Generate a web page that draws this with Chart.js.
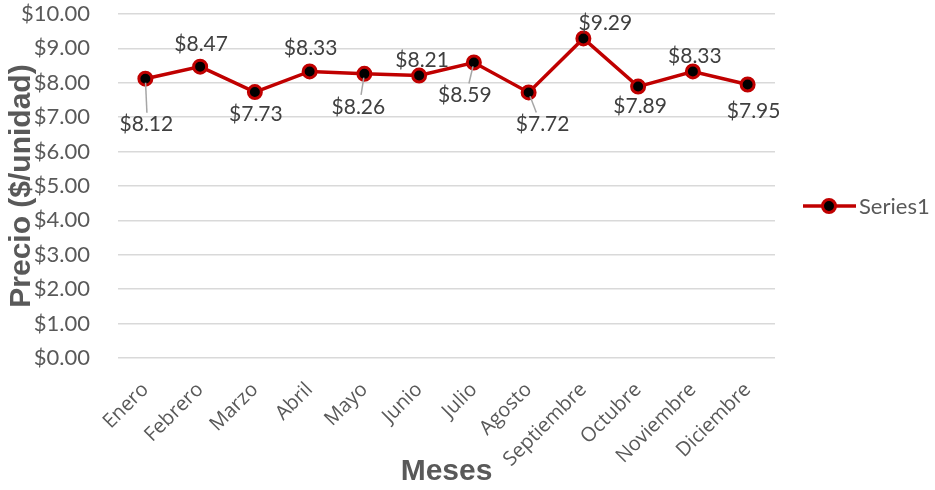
<!DOCTYPE html>
<html>
<head>
<meta charset="utf-8">
<script src="https://cdn.jsdelivr.net/npm/chart.js@4"></script>
<style>
  html, body { margin: 0; padding: 0; background: #fff; }
  #wrap { width: 935px; height: 490px; position: relative; }
</style>
</head>
<body>
<div id="wrap"><canvas id="c" width="935" height="490"></canvas></div>
<script>
const categories = ['Enero','Febrero','Marzo','Abril','Mayo','Junio','Julio','Agosto','Septiembre','Octubre','Noviembre','Diciembre'];
const seriesName = 'Series1';
const prices = [8.12, 8.47, 7.73, 8.33, 8.26, 8.21, 8.59, 7.72, 9.29, 7.89, 8.33, 7.95];
const yTickMin = 0, yTickMax = 10, yTickStep = 1;

// label placement style (offset from point in px, leader-line flag)
const labelStyle = [
  {dx: 1, dy: 46, leader: true},
  {dx: 1, dy: -22},
  {dx: 1, dy: 22},
  {dx: 1, dy: -23},
  {dx: -6, dy: 33, leader: true},
  {dx: 3, dy: -15},
  {dx: -9, dy: 33, leader: true},
  {dx: 14, dy: 32, leader: true},
  {dx: 22, dy: -15},
  {dx: 2, dy: 20},
  {dx: 2, dy: -15},
  {dx: 6, dy: 27}
];

const RED = '#C00000';
const GRAY = '#595959';

const dataLabels = {
  id: 'dataLabels',
  afterDatasetsDraw(chart) {
    const ctx = chart.ctx;
    const meta = chart.getDatasetMeta(0);
    ctx.save();
    meta.data.forEach((pt, i) => {
      const s = labelStyle[i];
      const lx = pt.x + s.dx, ly = pt.y + s.dy;
      if (s.leader) {
        ctx.strokeStyle = '#a6a6a6';
        ctx.lineWidth = 1.5;
        ctx.beginPath();
        ctx.moveTo(pt.x, pt.y);
        const ex = pt.x + s.dx * 0.55, ey = ly - 12 * Math.sign(s.dy);
        ctx.lineTo(ex + (s.dx === 1 ? 1 : 0), ey);
        ctx.stroke();
        ctx.beginPath();
        ctx.fillStyle = '#000';
        ctx.arc(pt.x, pt.y, 4, 0, Math.PI * 2);
        ctx.fill();
      }
      ctx.fillStyle = '#404040';
      ctx.font = '21px Lato';
      ctx.textAlign = 'center';
      ctx.textBaseline = 'middle';
      ctx.fillText('$' + prices[i].toFixed(2), lx, ly);
    });
    ctx.restore();
  }
};

const customLegend = {
  id: 'customLegend',
  afterDraw(chart) {
    const ctx = chart.ctx;
    const x0 = 803, y0 = 206;
    ctx.save();
    ctx.strokeStyle = RED;
    ctx.lineWidth = 3.5;
    ctx.beginPath();
    ctx.moveTo(x0, y0);
    ctx.lineTo(x0 + 53, y0);
    ctx.stroke();
    ctx.beginPath();
    ctx.arc(x0 + 26, y0, 6.5, 0, Math.PI * 2);
    ctx.fillStyle = '#000';
    ctx.fill();
    ctx.lineWidth = 3;
    ctx.strokeStyle = RED;
    ctx.stroke();
    ctx.fillStyle = GRAY;
    ctx.font = '22px Lato';
    ctx.textAlign = 'left';
    ctx.textBaseline = 'middle';
    ctx.fillText(seriesName, x0 + 56, y0 + 1);
    ctx.restore();
  }
};

new Chart(document.getElementById('c'), {
  type: 'line',
  data: {
    labels: categories,
    datasets: [{
      label: seriesName,
      data: prices,
      borderColor: RED,
      borderWidth: 3.5,
      tension: 0,
      pointBackgroundColor: '#000',
      pointBorderColor: RED,
      pointBorderWidth: 3,
      pointRadius: 6.5,
      fill: false
    }]
  },
  options: {
    responsive: false,
    animation: false,
    devicePixelRatio: 1,
    layout: { padding: { top: 14, right: 160, left: 0, bottom: 0 } },
    plugins: {
      legend: { display: false },
      tooltip: { enabled: false }
    },
    scales: {
      x: {
        offset: true,
        grid: { display: false, drawTicks: false },
        border: { display: false },
        ticks: {
          color: GRAY,
          font: { family: 'Open Sans', size: 20 },
          maxRotation: 45,
          minRotation: 45,
          padding: 20,
          autoSkip: false
        },
        title: {
          display: true,
          text: 'Meses',
          color: GRAY,
          font: { family: 'Liberation Sans', size: 30, weight: 'bold' },
          padding: 0
        },
        afterFit(scale) { scale.height = 132; }
      },
      y: {
        min: yTickMin,
        max: yTickMax,
        grid: { color: '#d9d9d9', lineWidth: 1.5, drawTicks: true, tickLength: 28, tickColor: 'rgba(0,0,0,0)' },
        border: { display: false },
        ticks: {
          stepSize: yTickStep,
          color: GRAY,
          font: { family: 'Lato', size: 22 },
          padding: 0,
          callback: v => '$' + Number(v).toFixed(2)
        },
        title: {
          display: true,
          text: 'Precio ($/unidad)',
          color: GRAY,
          font: { family: 'Liberation Sans', size: 30, weight: 'bold' },
          padding: { top: 4, bottom: 0 }
        },
        afterFit(scale) { scale.width = 118; }
      }
    }
  },
  plugins: [dataLabels, customLegend]
});
</script>
</body>
</html>
